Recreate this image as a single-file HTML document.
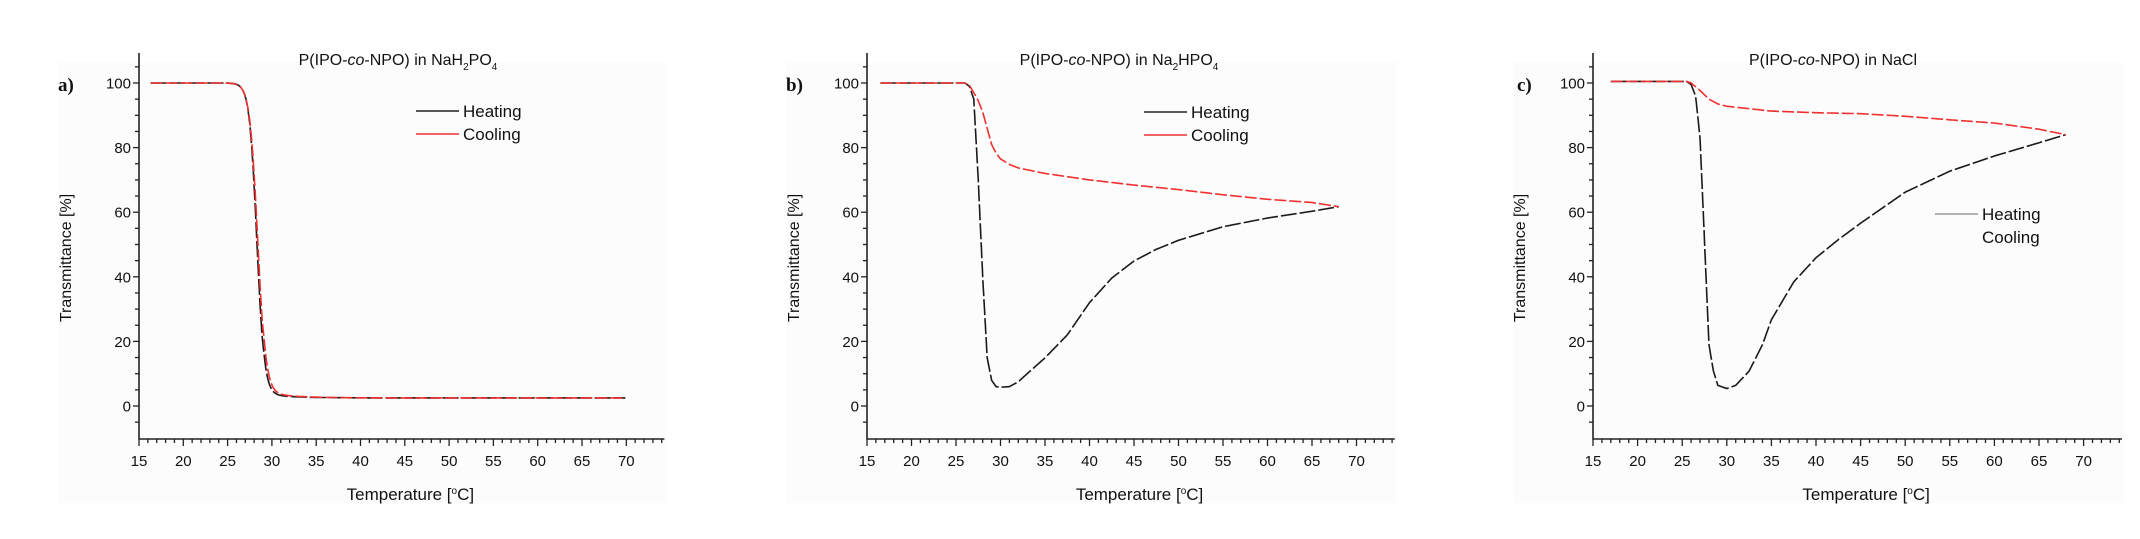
<!DOCTYPE html>
<html><head><meta charset="utf-8">
<style>
html,body{margin:0;padding:0;background:#fff;width:2140px;height:539px;overflow:hidden}
svg{display:block}
text{font-family:"Liberation Sans",sans-serif;fill:#111}
</style></head>
<body>
<svg id="s" width="2140" height="539" xmlns="http://www.w3.org/2000/svg">
</svg>
<script>
var s=document.getElementById('s');var NS='http://www.w3.org/2000/svg';
function el(t,a,txt){var e=document.createElementNS(NS,t);for(var k in a)e.setAttribute(k,a[k]);if(txt!==undefined)e.textContent=txt;s.appendChild(e);return e;}
function interp(pts,x){for(var i=0;i<pts.length-1;i++){if(x>=pts[i][0]&&x<=pts[i+1][0]){var t=(x-pts[i][0])/(pts[i+1][0]-pts[i][0]);return pts[i][1]+t*(pts[i+1][1]-pts[i][1]);}}return pts[pts.length-1][1];}
function panel(o){
 var X0=o.x0,dx=o.dx/5,Y0=406,dy=3.23;
 function px(v){return X0+(v-15)*dx;} function py(v){return Y0-v*dy;}
 el('rect',{x:X0-80,y:62,width:px(74.5)-X0+80,height:441,fill:'#fdfcfc'});
 el('line',{x1:X0,y1:53,x2:X0,y2:439.5,stroke:'#222','stroke-width':1.6});
 el('line',{x1:X0,y1:439,x2:px(74.3),y2:439,stroke:'#222','stroke-width':1.6});
 for(var v=-5;v<=105;v+=5){var mj=v%20==0;el('line',{x1:X0-(mj?6:4),y1:py(v),x2:X0,y2:py(v),stroke:'#222','stroke-width':1.3});
  if(mj)el('text',{x:X0-8,y:py(v)+5.5,'text-anchor':'end','font-size':15},String(v));}
 for(var t=15;t<=74;t++){var mj=t%5==0;el('line',{x1:px(t),y1:439,x2:px(t),y2:439+(mj?7:4),stroke:'#222','stroke-width':1.3});
  if(mj)el('text',{x:px(t),y:466,'text-anchor':'middle','font-size':15},String(t));}
 el('text',{x:o.lx,y:91,'font-size':19,'font-weight':'bold',style:'font-family:"Liberation Serif",serif'},o.let);
 el('text',{x:0,y:0,'text-anchor':'middle','font-size':16,transform:'translate('+(X0-68)+',258) rotate(-90)'},'Transmittance [%]');
 var tl=el('text',{x:(X0+px(74))/2+10,y:500,'text-anchor':'middle','font-size':17});
 tl.innerHTML='Temperature [<tspan dy="-6" font-size="10">o</tspan><tspan dy="6">C]</tspan>';
 var ti=el('text',{x:o.tx,y:65,'text-anchor':'middle','font-size':16});ti.innerHTML=o.title;
 function curve(pts,col,dash){var d='';for(var x=pts[0][0];x<=pts[pts.length-1][0]+1e-6;x+=0.05){d+=(d?'L':'M')+px(x).toFixed(1)+' '+py(interp(pts,x)).toFixed(1);}
  el('path',{d:d,fill:'none',stroke:col,'stroke-width':1.6,'stroke-dasharray':dash});}
 curve(o.heat,'#1a1a1a','16 3');curve(o.cool,'#f03030','12 3');
 var L=o.leg;
 el('line',{x1:L[0],y1:L[1],x2:L[0]+43,y2:L[1],stroke:o.c?'#999':'#222','stroke-width':1.5});
 el('text',{x:L[0]+47,y:L[1]+6,'font-size':17},'Heating');
 if(!o.c)el('line',{x1:L[0],y1:L[1]+23,x2:L[0]+43,y2:L[1]+23,stroke:'#f03030','stroke-width':1.5});
 el('text',{x:L[0]+47,y:L[1]+29,'font-size':17},'Cooling');
}
var sa=[];for(var x=16.3;x<=70;x+=0.2)sa.push([x,2.5+97.5/(1+Math.exp((x-28.3)/0.42))+ (x>29?1.2*Math.exp(-(x-29)/3):0)]);
var sb=[];for(var x=16.3;x<=70;x+=0.2)sb.push([x,2.5+97.5/(1+Math.exp((x-28.4)/0.45))+ (x>29?1.8*Math.exp(-(x-29)/3):0)]);
panel({x0:139,dx:44.3,lx:58,tx:398,let:'a)',title:'P(IPO-<tspan font-style="italic">co</tspan>-NPO) in NaH<tspan dy="5" font-size="10">2</tspan><tspan dy="-5">PO</tspan><tspan dy="5" font-size="10">4</tspan>',
 heat:sa,cool:sb,leg:[416,111]});
panel({x0:867,dx:44.5,lx:786,tx:1119,let:'b)',title:'P(IPO-<tspan font-style="italic">co</tspan>-NPO) in Na<tspan dy="5" font-size="10">2</tspan><tspan dy="-5">HPO</tspan><tspan dy="5" font-size="10">4</tspan>',
 heat:[[16.5,100],[26,100],[26.5,99],[27,95],[27.5,70],[28,40],[28.5,15],[29,8],[29.5,6],[30,5.8],[31,6],[32,7.5],[33,10],[35,14.9],[37.5,22],[40,32],[42.5,39.6],[45,44.9],[47.5,48.5],[50,51.3],[55,55.5],[60,58.2],[65,60.3],[68,61.7]],
 cool:[[16.5,100],[26,100],[26.5,99.3],[27,97],[27.5,94.5],[28,91],[28.5,86],[29,81],[29.5,78.3],[30,76.5],[31,74.8],[32,73.7],[35,72],[40,70],[45,68.4],[50,67],[55,65.4],[60,64],[65,63],[68,61.7]],
 leg:[1144,112]});
panel({x0:1593,dx:44.6,lx:1517,tx:1833,let:'c)',title:'P(IPO-<tspan font-style="italic">co</tspan>-NPO) in NaCl',c:1,
 heat:[[17,100.5],[25.5,100.5],[26,99.5],[26.5,96],[27,83],[27.5,51],[28,19],[28.5,10.8],[29,6.4],[30,5.4],[31,6.4],[32.5,10.8],[34,19],[35,26.7],[37.5,38.4],[40,45.9],[42.5,51.5],[45,56.6],[50,66.2],[55,72.7],[60,77.4],[65,81.5],[68,84]],
 cool:[[17,100.5],[25.5,100.5],[26,100],[27,97.7],[28,95],[29,93.5],[30,92.8],[35,91.3],[40,90.8],[45,90.5],[50,89.7],[55,88.6],[60,87.6],[65,85.7],[68,84]],
 leg:[1935,214]});
</script>
</body></html>
